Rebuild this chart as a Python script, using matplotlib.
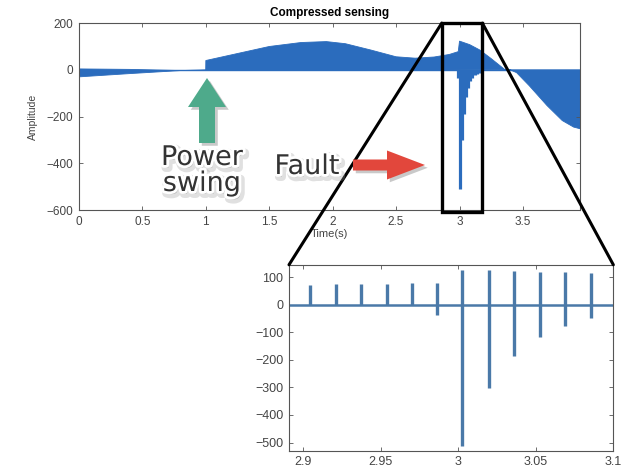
import matplotlib
matplotlib.use("Agg")
import matplotlib.pyplot as plt
import matplotlib.patheffects as pe
from matplotlib.patches import Rectangle, FancyArrow, ConnectionPatch
from matplotlib.ticker import FormatStrFormatter, MultipleLocator

plt.rcParams["font.family"] = ["Liberation Sans", "DejaVu Sans"]

# ---------------------------------------------------------------------------
# Data
# ---------------------------------------------------------------------------

# main plot: envelope of the dense 60 Hz spike train
upper_t = [0.00, 0.40, 0.80, 0.999, 1.00, 1.10, 1.25, 1.50, 1.75, 1.95, 2.10,
           2.30, 2.50, 2.65, 2.80, 2.92, 2.99, 3.00, 3.08, 3.16, 3.25, 3.36, 3.95]
upper_v = [4, 2, -3, 0, 40, 52, 70, 100, 117, 121, 112,
           85, 56, 50, 55, 66, 78, 123, 108, 85, 48, 0, 0]
lower_t = [0.00, 0.40, 0.80, 3.40, 3.45, 3.55, 3.69, 3.81, 3.90, 3.95]
lower_v = [-30, -16, -3, 0, -12, -68, -153, -217, -245, -252]

# spikes around the fault (inset)
spike_t  = [2.9045, 2.9211, 2.9372, 2.9540, 2.9703, 2.9866,
            3.0028, 3.0196, 3.0361, 3.0525, 3.0691, 3.0854]
spike_hi = [72, 75, 75, 77, 78, 78, 126, 126, 124, 120, 118, 117]
spike_lo = [0, 0, 0, 0, 0, -36, -512, -301, -187, -117, -76, -48]

# decaying negative spikes after the inset window (main plot only)
tail_t  = [3.102, 3.119, 3.136, 3.152, 3.169]
tail_lo = [-33, -24, -17, -12, -8]

BLUE = "#2b6cbd"
INSET_BLUE = "#4a79a8"
GREY = "#555555"


def style_axes(ax):
    for s in ax.spines.values():
        s.set_color(GREY)
        s.set_linewidth(0.8)
    ax.tick_params(direction="in", top=True, right=True, length=3,
                   width=0.6, color=GREY, labelcolor="#444444",
                   labelsize=8.5, pad=4)


fig = plt.figure(figsize=(6.31, 4.72), dpi=100)
fig.patch.set_facecolor("white")

# ---------------------------------------------------------------------------
# Main axes
# ---------------------------------------------------------------------------
ax = fig.add_axes([0.1252, 0.555, 0.794, 0.396])
xs = upper_t + lower_t[::-1]
ys = upper_v + lower_v[::-1]
ax.fill(xs, ys, color=BLUE, lw=0.6, ec=BLUE)
ax.axhline(0, color=BLUE, lw=1.0)
ax.vlines(spike_t, spike_lo, 0, color=BLUE, lw=2.3)
ax.vlines(tail_t, tail_lo, 0, color=BLUE, lw=2.3)
ax.set_xlim(0, 3.95)
ax.set_ylim(-600, 200)
ax.xaxis.set_major_locator(MultipleLocator(0.5))
ax.yaxis.set_major_locator(MultipleLocator(200))
ax.xaxis.set_major_formatter(FormatStrFormatter("%g"))
style_axes(ax)
ax.set_title("Compressed sensing", fontsize=8.5, fontweight="bold", pad=5)
ax.set_xlabel("Time(s)", fontsize=8, color="#444444", labelpad=1)
ax.set_ylabel("Amplitude", fontsize=7.5, color="#444444", labelpad=6)

# zoom box
ax.add_patch(Rectangle((2.86, -608), 0.32, 808, fill=False, ec="black",
                       lw=2.4, clip_on=False, zorder=6))

# ---------------------------------------------------------------------------
# Inset
# ---------------------------------------------------------------------------
ax_in = fig.add_axes([0.458, 0.045, 0.514, 0.394])
ax_in.axhline(0, color=INSET_BLUE, lw=1.8)
ax_in.vlines(spike_t, spike_lo, spike_hi, color=INSET_BLUE, lw=2.4)
ax_in.set_xlim(2.891, 3.1)
ax_in.set_ylim(-530, 146)
ax_in.xaxis.set_major_locator(MultipleLocator(0.05))
ax_in.yaxis.set_major_locator(MultipleLocator(100))
ax_in.xaxis.set_major_formatter(FormatStrFormatter("%g"))
style_axes(ax_in)
ax_in.tick_params(labelsize=9)

for (xa, xb) in [((2.86, 200), (0, 1)), ((3.18, 200), (1, 1))]:
    con = ConnectionPatch(xyA=xa, coordsA=ax.transData,
                          xyB=xb, coordsB=ax_in.transAxes,
                          color="black", lw=2.2, zorder=7)
    fig.add_artist(con)

# ---------------------------------------------------------------------------
# Annotations (pixel overlay)
# ---------------------------------------------------------------------------
ov = fig.add_axes([0, 0, 1, 1], zorder=10)
ov.set_xlim(0, 631)
ov.set_ylim(472, 0)
ov.set_axis_off()
ov.patch.set_alpha(0)

shadow = [pe.SimplePatchShadow(offset=(2, -2), shadow_rgbFace="0.3", alpha=0.3),
          pe.Normal()]
ov.add_patch(FancyArrow(207, 143, 0, -65, width=16, head_width=38,
                        head_length=29, length_includes_head=True,
                        color="#4eaa8b", lw=0, path_effects=shadow))
ov.add_patch(FancyArrow(353, 165, 72, 0, width=11, head_width=29,
                        head_length=38, length_includes_head=True,
                        color="#e2473c", lw=0, path_effects=shadow))

txt_fx = [pe.Stroke(linewidth=6, foreground="0.6", alpha=0.3, offset=(1.5, -2)),
          pe.Stroke(linewidth=4, foreground="white"),
          pe.Normal()]
for s, (x, y) in [("Power", (202, 158)), ("swing", (202, 184)),
                  ("Fault", (307, 167))]:
    ov.text(x, y, s, ha="center", va="center", fontsize=19.5,
            family="DejaVu Sans", color="#333333", path_effects=txt_fx)

fig.savefig("out.png", dpi=100)
